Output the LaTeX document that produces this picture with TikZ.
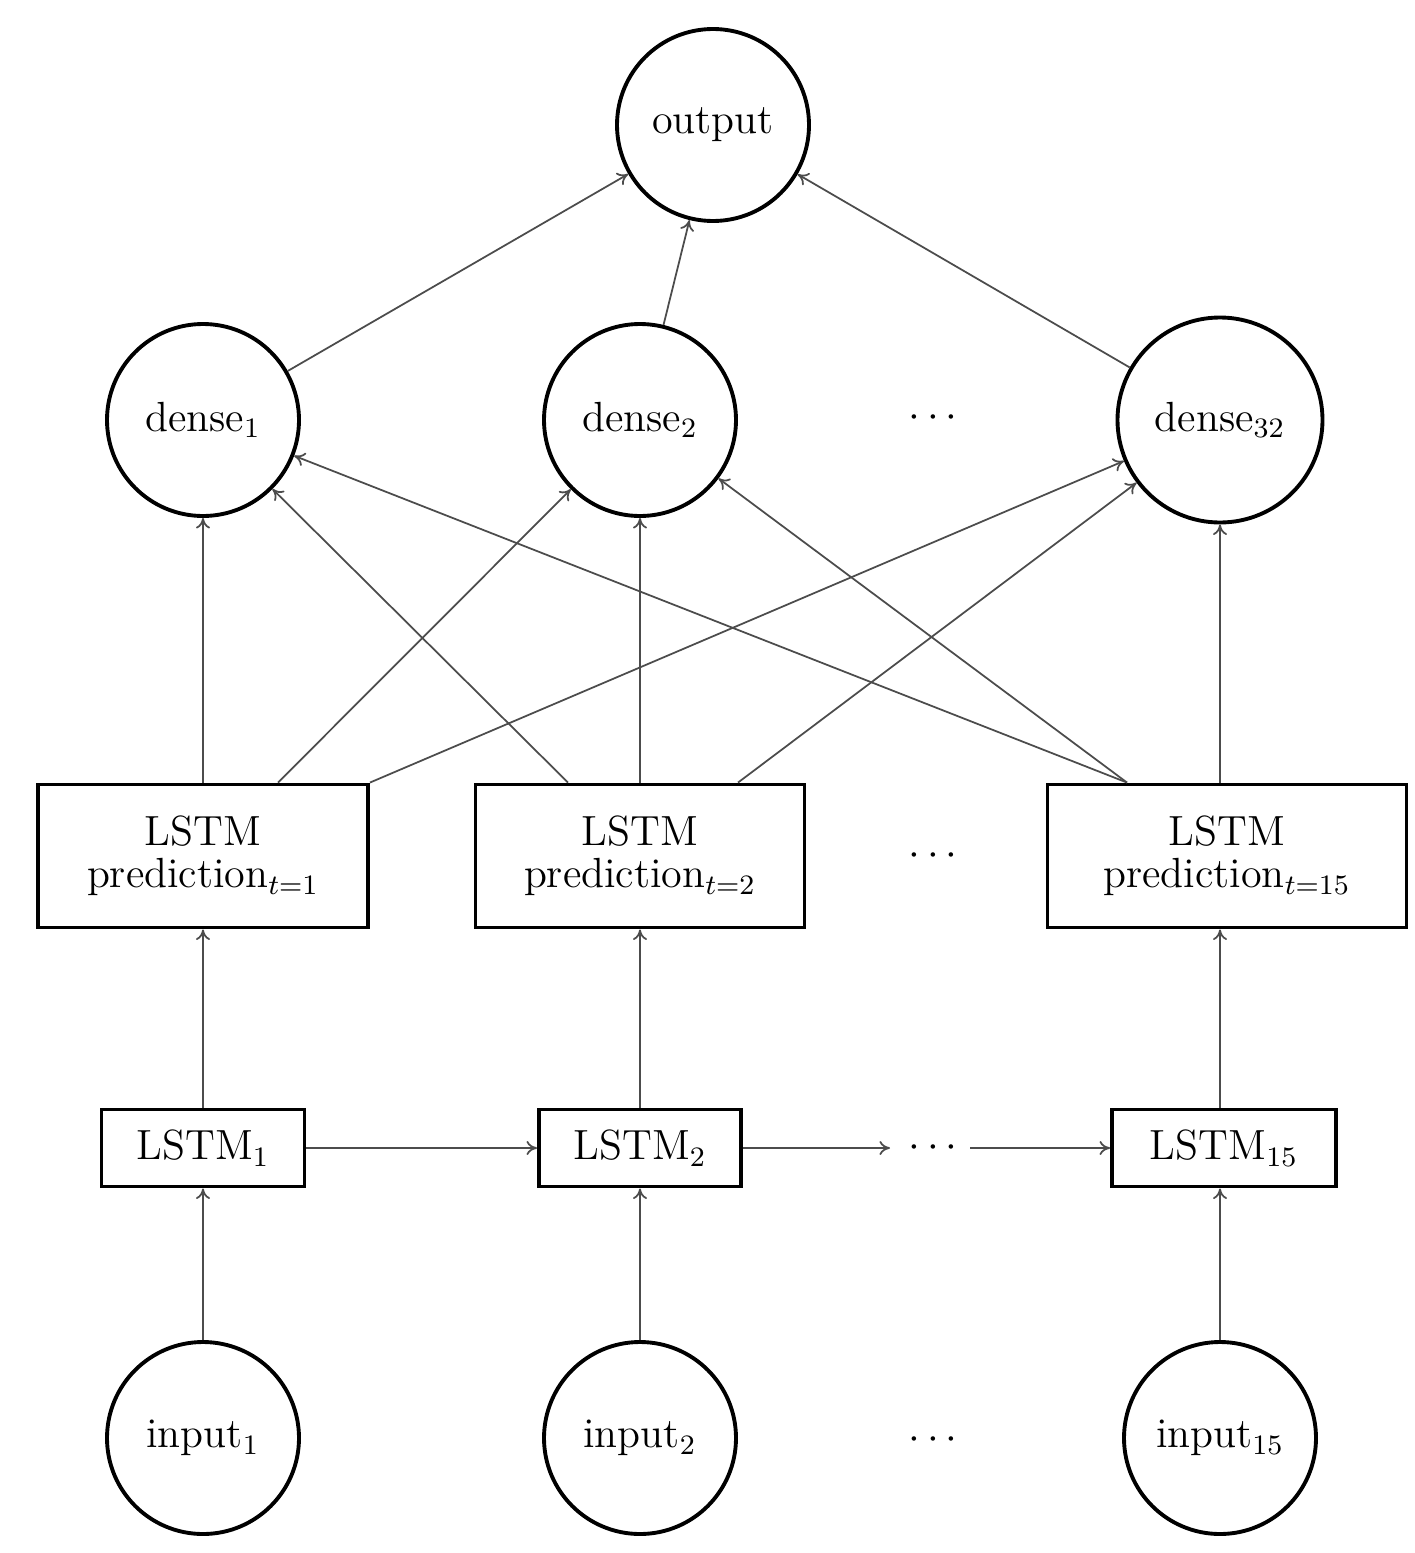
\documentclass[tikz,border=0pt]{standalone}
\usetikzlibrary{arrows.meta}
\begin{document}
\begin{tikzpicture}[
  font=\large,
  circ/.style={circle,draw,line width=1.1pt,minimum size=1.92cm,inner sep=0pt},
  box/.style={draw,line width=1.1pt,align=center,inner sep=2pt},
  pred/.style={box,minimum height=1.43cm},
  small/.style={box,minimum height=0.77cm},
  arr/.style={-{To[length=3pt,width=4pt]},draw=black!70,line width=0.5pt}
]
\useasboundingbox (0,0) rectangle (14.14,-15.53);
\node[circ] (out) at (7.13,-1.25) {output};
\node[circ] (d1) at (2.03,-4.2) {dense$_1$};
\node[circ] (d2) at (6.40,-4.2) {dense$_2$};
\node[circ,minimum size=2.05cm] (d32) at (12.20,-4.2) {dense$_{32}$};
\node (dd) at (9.33,-4.18) {$\cdots$};
\node[pred,minimum width=3.3cm] (p1) at (2.03,-8.56) {LSTM\\[-2pt]prediction$_{t=1}$};
\node[pred,minimum width=3.29cm] (p2) at (6.40,-8.56) {LSTM\\[-2pt]prediction$_{t=2}$};
\node[pred,minimum width=3.59cm] (p15) at (12.27,-8.56) {LSTM\\[-2pt]prediction$_{t=15}$};
\node (pd) at (9.33,-8.56) {$\cdots$};
\node[small,minimum width=2.03cm] (l1) at (2.03,-11.48) {LSTM$_1$};
\node[small,minimum width=2.02cm] (l2) at (6.40,-11.48) {LSTM$_2$};
\node[small,minimum width=2.24cm] (l15) at (12.24,-11.48) {LSTM$_{15}$};
\node (ld) at (9.33,-11.48) {$\cdots$};
\coordinate (la) at (8.90,-11.48);
\coordinate (lb) at (9.70,-11.48);
\node[circ] (i1) at (2.03,-14.38) {input$_1$};
\node[circ] (i2) at (6.40,-14.38) {input$_2$};
\node[circ] (i15) at (12.20,-14.38) {input$_{15}$};
\node (id) at (9.33,-14.40) {$\cdots$};
\draw[arr] (d1) -- (out);
\draw[arr] (d2) -- (out);
\draw[arr] (d32) -- (out);
\draw[arr] (p1.north -| d1) -- (d1);
\draw[arr] (p1.north -| 2.78,0) -- (d2);
\draw[arr] (p1.north east) -- (d32);
\draw[arr] (p2.north -| 5.68,0) -- (d1);
\draw[arr] (p2.north -| d2) -- (d2);
\draw[arr] (p2.north -| 7.38,0) -- (d32);
\draw[arr] (p15.north -| 11.27,0) -- (d1);
\draw[arr] (p15.north -| 11.27,0) -- (d2);
\draw[arr] (p15.north -| d32) -- (d32);
\draw[arr] (l1) -- (p1.south -| l1);
\draw[arr] (l2) -- (p2.south -| l2);
\draw[arr] (l15.north -| d32) -- (p15.south -| d32);
\draw[arr] (l1) -- (l2);
\draw[arr] (l2) -- (la);
\draw[arr] (lb) -- (l15);
\draw[arr] (i1) -- (l1);
\draw[arr] (i2) -- (l2);
\draw[arr] (i15) -- (l15.south -| i15);
\end{tikzpicture}
\end{document}
